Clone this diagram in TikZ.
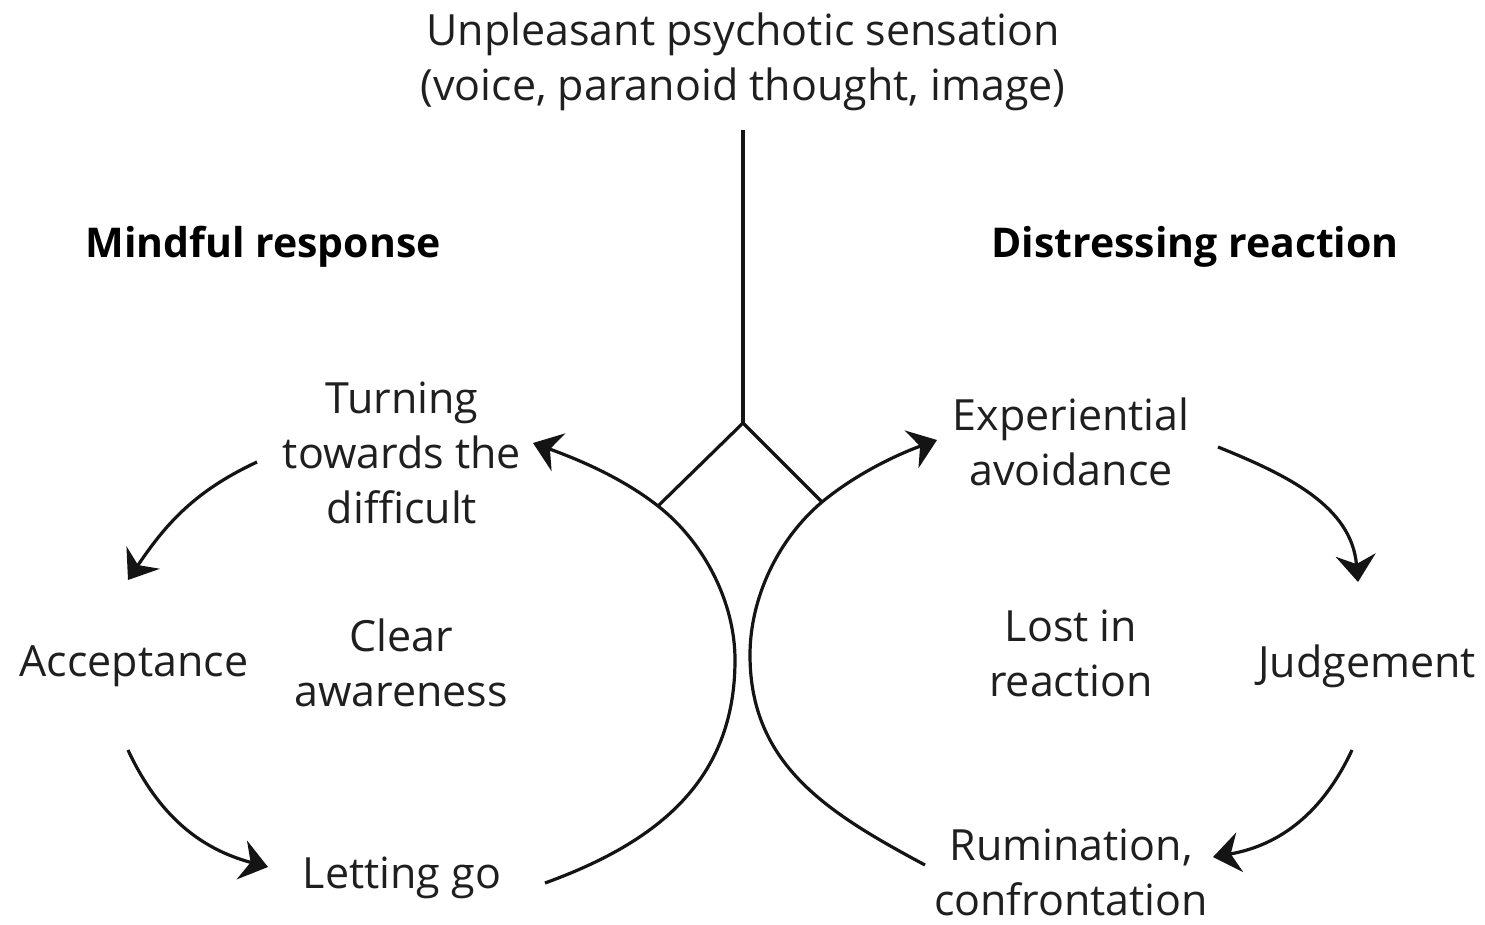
\documentclass[tikz,border=0pt]{standalone}
\usepackage{fontspec}
\setmainfont{Open Sans}
\usetikzlibrary{arrows.meta}
\tikzset{
  txt/.style={font=\fontsize{43}{55}\selectfont, align=center, inner sep=0pt, text=black!88},
  hdr/.style={font=\fontsize{41}{50}\selectfont\bfseries, inner sep=0pt, text=black},
  ln/.style={line width=3.2pt, black!92},
  arr/.style={line width=3.2pt, black!92, -{Stealth[length=27pt,width=40pt,inset=9pt]}},
}
\begin{document}
\begin{tikzpicture}
\useasboundingbox (0,0) rectangle (1485pt,-924pt);
\begin{scope}[x=1pt,y=1pt]
% text nodes
\node[txt] (title) at (743,-62) {Unpleasant psychotic sensation\\(voice, paranoid thought, image)};
\node[hdr] (mind) at (263,-247) {Mindful response};
\node[hdr] (dist) at (1195,-247) {Distressing reaction};
\node[txt] (turn) at (402,-453) {Turning\\towards the\\difficult};
\node[txt] (accept) at (134,-666) {Acceptance};
\node[txt] (clear) at (401,-663) {Clear\\awareness};
\node[txt] (letgo) at (402,-878) {Letting go};
\node[txt] (exper) at (1071,-442) {Experiential\\avoidance};
\node[txt] (lost) at (1071,-653) {Lost in\\reaction};
\node[txt] (judge) at (1367,-666) {Judgement};
\node[txt] (rum) at (1071,-872) {Rumination,\\confrontation};
% coordinates
\coordinate (stem) at (743,-130);
\coordinate (dtop) at (743,-423);
\coordinate (dl) at (658,-506);
\coordinate (dr) at (822,-502);
\coordinate (la0) at (545,-883);
\coordinate (lamid) at (735,-660);
\coordinate (la1) at (533,-443);
\coordinate (ra0) at (925,-865);
\coordinate (ramid) at (750,-655);
\coordinate (ra1) at (937,-440);
\coordinate (a1s) at (257,-462);
\coordinate (a1e) at (128,-580);
\coordinate (a2s) at (128,-750);
\coordinate (a2e) at (268,-867);
\coordinate (a3s) at (1218,-447);
\coordinate (a3e) at (1358,-582);
\coordinate (a4s) at (1352,-750);
\coordinate (a4e) at (1213,-857);
% stem and diamond
\draw[ln] (stem) -- (dtop);
\draw[ln, line join=miter] (dl) -- (dtop) -- (dr);
% main arcs
\draw[arr] (la0) .. controls (658,-842) and (735,-780) .. (lamid)
  .. controls (735,-602) and (704,-542) .. (dl)
  .. controls (621,-477) and (577,-459) .. (la1);
\draw[arr] (ra0) .. controls (828,-813) and (750,-765) .. (ramid)
  .. controls (750,-598) and (778,-539) .. (dr)
  .. controls (856,-474) and (896,-455) .. (ra1);
% cycle arrows
\draw[arr] (a1s) to[out=205,in=56] (a1e);
\draw[arr] (a2s) to[out=-65,in=165] (a2e);
\draw[arr] (a3s) to[out=-22,in=95] (a3e);
\draw[arr] (a4s) to[out=-115,in=10] (a4e);
\end{scope}
\end{tikzpicture}
\end{document}
